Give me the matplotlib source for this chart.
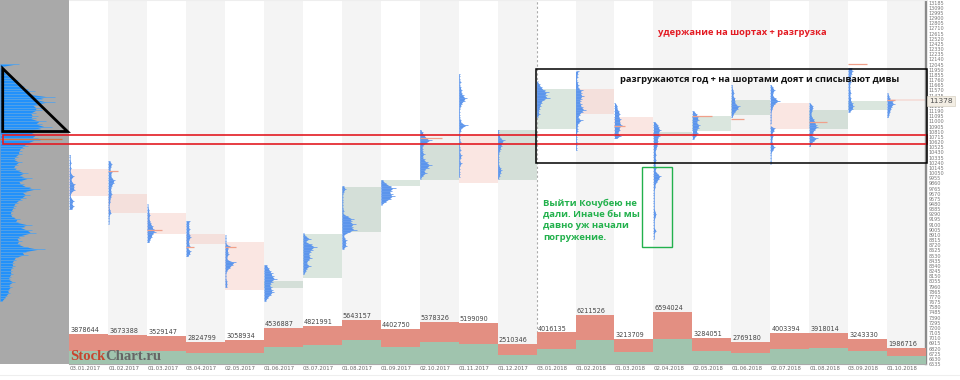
import numpy as np
import matplotlib
matplotlib.use('Agg')
import matplotlib.pyplot as plt
from matplotlib.lines import Line2D
from matplotlib.patches import Rectangle, Polygon

dates = ['03.01.2017', '01.02.2017', '01.03.2017', '03.04.2017', '02.05.2017', '01.06.2017',
         '03.07.2017', '01.08.2017', '01.09.2017', '02.10.2017', '01.11.2017', '01.12.2017',
         '03.01.2018', '01.02.2018', '01.03.2018', '02.04.2018', '02.05.2018', '01.06.2018',
         '02.07.2018', '01.08.2018', '03.09.2018', '01.10.2018']
volumes = [3878644, 3673388, 3529147, 2824799, 3058934, 4536887, 4821991, 5643157, 4402750, 5378326, 5199090,
           2510346, 4016135, 6211526, 3213709, 6594024, 3284051, 2769180, 4003394, 3918014, 3243330, 1986716]
buy_volumes = [1660000, 1660000, 1660000, 1360000, 1450000, 2210000, 2470000, 3020000, 2210000, 2850000, 2590000,
               1150000, 1910000, 3060000, 1530000, 3230000, 1620000, 1400000, 1910000, 2000000, 1620000, 1060000]

body_high = [10115, 9656, 9308, 8922, 8775, 8060, 8922, 9785, 9913, 10574, 10757,
             10836, 11596, 11596, 11082, 10799, 11093, 11387, 11339, 11203, 11368, 11412]
body_low = [9625, 9308, 8922, 8739, 7895, 7937, 8109, 8959, 9809, 9913, 9871,
            9913, 10867, 11143, 10776, 10757, 10831, 11124, 10867, 10867, 11203, 11368]
body_kind = ['r', 'r', 'r', 'r', 'r', 'g', 'g', 'g', 'g', 'g', 'r',
             'g', 'g', 'r', 'r', 'g', 'g', 'g', 'r', 'g', 'g', 'r']

# monthly volume profiles, top price and width per 50 price step
prof_top = [10390, 10267, 9473, 9166, 8904, 8353, 8941, 9809, 9919, 10849, 11877,
            10849, 11735, 11919, 11339, 10990, 11185, 11675, 11675, 11339, 11981, 11522]
prof_width = [
    [1, 1, 1, 2, 1, 2, 1, 2, 5, 2, 3, 6, 5, 6, 2, 1, 2, 5, 3, 5, 3],
    [2, 4, 3, 2, 4, 3, 4, 7, 6, 4, 3, 3, 4, 3, 2, 2, 1, 1, 2, 3, 1, 1, 1, 1],
    [1, 1, 2, 2, 3, 2, 3, 4, 6, 7, 9, 6, 5, 3, 2],
    [4, 3, 3, 4, 3, 4, 5, 3, 3, 4, 2, 5, 4, 2],
    [1, 1, 1, 1, 5, 3, 3, 4, 2, 3, 11, 8, 5, 2, 1, 1, 1, 2, 2, 2],
    [3, 5, 7, 9, 10, 13, 9, 7, 8, 9, 10, 7, 4, 2],
    [1, 3, 8, 3, 9, 14, 10, 8, 7, 9, 6, 4, 8, 4, 3, 1],
    [2, 4, 2, 1, 1, 1, 1, 1, 1, 2, 1, 6, 12, 10, 14, 11, 15, 8, 2, 3, 5, 4, 5, 2],
    [2, 5, 10, 15, 11, 12, 14, 10, 5, 1],
    [1, 3, 5, 8, 12, 7, 3, 3, 3, 5, 3, 5, 8, 12, 9, 5, 7, 3, 1],
    [1, 1, 1, 2, 1, 2, 3, 3, 5, 8, 6, 3, 2, 1, 1, 1, 1, 2, 3, 9, 3, 2, 1, 1, 1, 2, 1, 1, 2, 1, 3, 2, 1, 3, 1, 1, 1, 1, 1],
    [1, 1, 2, 3, 7, 5, 4, 3, 2, 1, 1, 1, 1, 1, 3, 4, 3, 2, 1],
    [1, 3, 5, 8, 12, 10, 13, 7, 5, 4, 3, 2, 3, 1],
    [3, 2, 2, 1, 2, 3, 3, 7, 6, 8, 6, 5, 6, 7, 10, 7, 4, 3, 7, 3, 2, 2, 2, 1, 1, 1, 1, 1, 1, 1],
    [1, 3, 3, 5, 6, 5, 7, 6, 8, 6, 6, 4, 7, 3],
    [2, 5, 6, 8, 6, 7, 5, 5, 5, 4, 3, 2, 3, 2, 3, 2, 2, 3, 2, 5, 8, 6, 4, 2, 2, 1, 1, 1, 1, 1, 1, 1, 1, 2, 3, 2, 1, 1, 1, 1, 3, 1, 1, 1],
    [2, 5, 6, 7, 5, 8, 7, 5, 6, 4, 2],
    [1, 1, 2, 3, 2, 4, 4, 5, 9, 7, 4, 2, 1],
    [1, 3, 5, 3, 3, 6, 10, 5, 3, 2, 1, 1, 1, 1, 1, 0, 5, 4, 2, 3, 2, 2, 3, 5, 3, 1, 1, 1, 1, 1],
    [1, 4, 4, 3, 2, 3, 5, 7, 8, 9, 6, 4, 3, 9, 5, 2, 1],
    [4, 5, 4, 3, 3, 3, 2, 2, 2, 3, 2, 3, 3, 5, 6, 5, 2],
    [1, 2, 3, 6, 8, 5, 4, 3, 2, 1],
]
poc_month = [1, 2, 3, 4, 9, 14, 16, 17, 19, 20, 21]
poc_price = [10084, 8996, 8689, 8697, 10697, 10910, 11106, 11051, 10996, 12060, 11387]
poc_width = [10, 15, 8, 11, 22, 11, 20, 13, 18, 19, 8]

# whole period profile in the grey panel
total_top = 12060
total_width = [19, 0, 2, 5, 8, 12, 18, 18, 24, 28, 35, 32, 55, 42, 55, 38, 42, 42, 36, 38, 36, 46, 42, 52, 40, 36,
               42, 38, 40, 32, 28, 24, 22, 22, 18, 16, 22, 18, 16, 20, 28, 22, 32, 22, 24, 30, 40, 26, 30, 26,
               22, 18, 16, 15, 13, 12, 14, 20, 18, 32, 24, 32, 36, 24, 20, 22, 20, 28, 45, 26, 28, 18, 16, 14,
               15, 13, 12, 13, 11, 10, 15, 10, 12, 9, 10, 7, 5, 2]

last_price = 11378
# the price tag sits on top of the nearest label
price_ticks = [p for p in range(13185, 6500, -95) if abs(p - last_price) > 20]

W, H = 960, 380
col = 38.93  # px per month
step = 50
ymin, ymax = 6555, 13234.5

fig = plt.figure(figsize=(W / 100, H / 100), dpi=100, facecolor='white')


def profile(a, start, top_price, widths, scale, color, spike_color, core):
    lv = top_price - step * np.arange(len(widths))
    w = np.array(widths) * scale
    a.fill_betweenx(lv, start, start + w * core, color=color, lw=0, zorder=3)
    a.hlines(lv, start, start + w, color=spike_color, lw=0.6, zorder=3)


left = fig.add_axes([0, 16 / H, 69.3 / W, 364 / H], facecolor='#a9a9a9')
left.set_xlim(0, 69.3)
left.set_ylim(ymin, ymax)
left.set_xticks([])
left.set_yticks([])
for s in left.spines.values():
    s.set_visible(False)
profile(left, 0, total_top, total_width, 1, '#2291fb', '#5aa3e6', 0.85)
left.hlines(10684, 0, 62, color='#d9713f', lw=0.9, zorder=4)

ax = fig.add_axes([69.3 / W, 16 / H, (926 - 69.3) / W, 364 / H])
ax.set_xlim(0, len(dates))
ax.set_ylim(ymin, ymax)
for i in range(1, len(dates), 2):
    ax.axvspan(i, i + 1, color='#f4f4f4', lw=0, zorder=0)

for i in range(len(dates)):
    c = '#f4c9c0' if body_kind[i] == 'r' else '#a8c4b2'
    a = 0.45 if body_kind[i] == 'r' else 0.42
    ax.bar(i, body_high[i] - body_low[i], bottom=body_low[i], width=1, align='edge', color=c, alpha=a, lw=0, zorder=1)
    profile(ax, i, prof_top[i], prof_width[i], 1 / col, '#5c95ec', '#6a9eee', 0.8)

for m, p, w in zip(poc_month, poc_price, poc_width):
    ax.hlines(p, m, m + w / col, color='#f0a08a', lw=0.9, zorder=4)

ax.axvline(12, color='#aaaaaa', lw=0.8, ls=(0, (2, 2)), zorder=2)

ax.set_xticks(range(len(dates)))
ax.set_xticklabels(dates, ha='left', fontsize=3.9, color='#666666')
ax.tick_params(axis='x', length=0, pad=1.5)

vol = ax.twinx()
vol.set_ylim(0, 46.4e6)
vol.set_yticks([])
for s in vol.spines.values():
    s.set_visible(False)
x = np.arange(len(dates))
vol.bar(x, buy_volumes, width=1, align='edge', color='#a0c4ae', lw=0)
vol.bar(x, np.array(volumes) - np.array(buy_volumes), bottom=buy_volumes, width=1, align='edge', color='#e38f82', lw=0)
for i, v in enumerate(volumes):
    vol.annotate(str(v), (i, v), xytext=(0.7, 0.7), textcoords='offset points', fontsize=4.7, color='#444444', va='bottom', ha='left')

# twinx moved the price labels back to the left, so set them after it
ax.yaxis.tick_right()
ax.set_yticks(price_ticks)
ax.set_yticklabels([str(p) for p in price_ticks], fontsize=3.5, color='#777777')
ax.tick_params(axis='y', length=0, pad=2)
ax.spines['top'].set_color('#eeeeee')
ax.spines['left'].set_visible(False)
ax.spines['bottom'].set_color('#aaaaaa')
ax.spines['right'].set_color('#8a8a8a')
ax.spines['right'].set_linewidth(1.7)

# overlay in picture pixels for the hand drawn marks
top = fig.add_axes([0, 0, 1, 1], facecolor='none')
top.set_xlim(0, W)
top.set_ylim(H, 0)
top.axis('off')
top.add_patch(Rectangle((2.7, 135), 924, 9.3, fill=False, ec='#e31b23', lw=1.2))
top.add_patch(Rectangle((536.3, 69.3), 390.4, 94, fill=False, ec='black', lw=1.1))
top.add_patch(Rectangle((642, 167.3), 30.3, 80, fill=False, ec='#22b14c', lw=1.0))
top.add_patch(Polygon([(2.7, 68.5), (2.7, 131.5), (67.5, 131.5)], closed=True, fill=False, ec='black', lw=2.0))
top.add_line(Line2D([0, W], [375, 375], color='#eeeeee', lw=0.8))

top.text(941, 101.3, str(last_price), fontsize=5.4, color='#555555', va='center', ha='center',
         bbox=dict(boxstyle='square,pad=0.25', fc='#f3eee4', ec='#d8d2c4', lw=0.5), zorder=10)
top.text(658, 32.5, 'удержание на шортах + разгрузка', family='Open Sans', weight='bold', fontsize=6.75, color='#e31b23', va='center')
top.text(620, 80, 'разгружаются год + на шортами доят и списывают дивы', family='Open Sans', weight='bold', fontsize=6.65, color='#111111', va='center')
for y, s in zip([203.3, 215, 226, 237.5], ['Выйти Кочубею не', 'дали. Иначе бы мы', 'давно уж начали', 'погружение.']):
    top.text(543, y, s, family='Open Sans', weight='bold', fontsize=6.8, color='#22b14c', va='center')

top.text(70, 357, 'Stock', family='Liberation Serif', weight='bold', fontsize=10.6, color='#c8452f', va='center')
top.text(105.5, 357, 'Chart.ru', family='Liberation Serif', weight='bold', fontsize=10.6, color='#666666', va='center')

fig.savefig('out.png', dpi=100)
